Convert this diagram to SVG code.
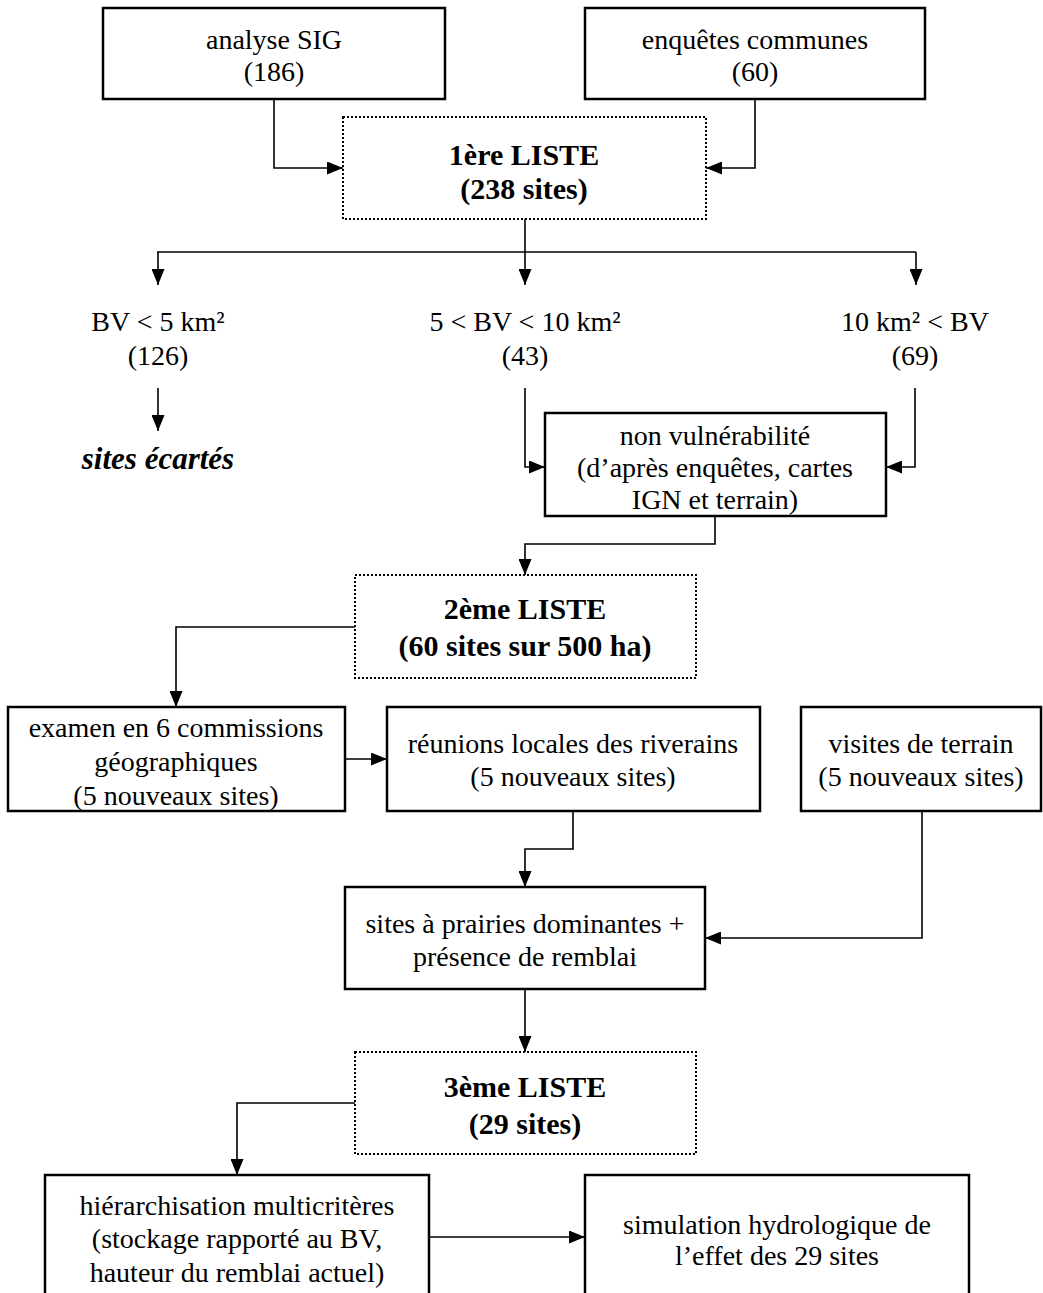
<svg xmlns="http://www.w3.org/2000/svg" width="1043" height="1293" viewBox="0 0 1043 1293">
<defs>
<marker id="ah" viewBox="0 0 16 13" refX="16" refY="6.5" markerWidth="16" markerHeight="13" markerUnits="userSpaceOnUse" orient="auto">
<path d="M0,0 L16,6.5 L0,13 Z" fill="#000"/>
</marker>
<style>
.box{fill:#fff;stroke:#000;stroke-width:2.5}
.dot{fill:#fff;stroke:#000;stroke-width:2;stroke-dasharray:2 2}
.t{font-family:"Liberation Serif","Times New Roman",serif;font-size:28px;fill:#000;text-anchor:middle}
.b{font-family:"Liberation Serif","Times New Roman",serif;font-size:30px;font-weight:bold;fill:#000;text-anchor:middle}
.bi{font-family:"Liberation Serif","Times New Roman",serif;font-size:31px;font-weight:bold;font-style:italic;fill:#000;text-anchor:middle}
.c{fill:none;stroke:#000;stroke-width:1.6}
.ca{fill:none;stroke:#000;stroke-width:1.6;marker-end:url(#ah)}
</style>
</defs>
<rect width="1043" height="1293" fill="#fff"/>
<g id="connectors">
<path class="ca" d="M274,99 V168 H343"/>
<path class="ca" d="M755,99 V168 H706"/>
<path class="c" d="M525,219 V252"/>
<path class="c" d="M157,252 H916"/>
<path class="ca" d="M158,252 V285"/>
<path class="ca" d="M525,252 V285"/>
<path class="ca" d="M916,252 V285"/>
<path class="ca" d="M158,388 V431"/>
<path class="ca" d="M525,388 V467 H545"/>
<path class="ca" d="M915,388 V467 H886"/>
<path class="ca" d="M715,516 V544 H525 V575"/>
<path class="ca" d="M355,627 H176 V707"/>
<path class="ca" d="M345,759 H387"/>
<path class="ca" d="M573,811 V849 H525 V887"/>
<path class="ca" d="M922,811 V938 H705"/>
<path class="ca" d="M525,989 V1052"/>
<path class="ca" d="M355,1103 H237 V1175"/>
<path class="ca" d="M429,1237 H585"/>
</g>
<g id="n-sig">
<rect class="box" x="103" y="8" width="342" height="91"/>
<text class="t" x="274" y="49">analyse SIG</text>
<text class="t" x="274" y="81">(186)</text>
</g>
<g id="n-enq">
<rect class="box" x="585" y="8" width="340" height="91"/>
<text class="t" x="755" y="49">enquêtes communes</text>
<text class="t" x="755" y="81">(60)</text>
</g>
<g id="n-liste1">
<rect class="dot" x="343" y="117" width="363" height="102"/>
<text class="b" x="524" y="165">1ère LISTE</text>
<text class="b" x="524" y="199">(238 sites)</text>
</g>
<g id="n-bv1">
<text class="t" x="158" y="331">BV &lt; 5 km²</text>
<text class="t" x="158" y="365">(126)</text>
</g>
<g id="n-bv2">
<text class="t" x="525" y="331">5 &lt; BV &lt; 10 km²</text>
<text class="t" x="525" y="365">(43)</text>
</g>
<g id="n-bv3">
<text class="t" x="915" y="331">10 km² &lt; BV</text>
<text class="t" x="915" y="365">(69)</text>
</g>
<g id="n-ecartes">
<text class="bi" x="158" y="469">sites écartés</text>
</g>
<g id="n-nonvuln">
<rect class="box" x="545" y="413" width="341" height="103"/>
<text class="t" x="715" y="445">non vulnérabilité</text>
<text class="t" x="715" y="477">(d’après enquêtes, cartes</text>
<text class="t" x="715" y="509">IGN et terrain)</text>
</g>
<g id="n-liste2">
<rect class="dot" x="355" y="575" width="341" height="103"/>
<text class="b" x="525" y="619">2ème LISTE</text>
<text class="b" x="525" y="656">(60 sites sur 500 ha)</text>
</g>
<g id="n-examen">
<rect class="box" x="8" y="707" width="337" height="104"/>
<text class="t" x="176" y="737">examen en 6 commissions</text>
<text class="t" x="176" y="771">géographiques</text>
<text class="t" x="176" y="805">(5 nouveaux sites)</text>
</g>
<g id="n-reunions">
<rect class="box" x="387" y="707" width="373" height="104"/>
<text class="t" x="573" y="753">réunions locales des riverains</text>
<text class="t" x="573" y="786">(5 nouveaux sites)</text>
</g>
<g id="n-visites">
<rect class="box" x="801" y="707" width="240" height="104"/>
<text class="t" x="921" y="753">visites de terrain</text>
<text class="t" x="921" y="786">(5 nouveaux sites)</text>
</g>
<g id="n-prairies">
<rect class="box" x="345" y="887" width="360" height="102"/>
<text class="t" x="525" y="933">sites à prairies dominantes +</text>
<text class="t" x="525" y="966">présence de remblai</text>
</g>
<g id="n-liste3">
<rect class="dot" x="355" y="1052" width="341" height="102"/>
<text class="b" x="525" y="1097">3ème LISTE</text>
<text class="b" x="525" y="1134">(29 sites)</text>
</g>
<g id="n-hier">
<rect class="box" x="45" y="1175" width="384" height="130"/>
<text class="t" x="237" y="1215">hiérarchisation multicritères</text>
<text class="t" x="237" y="1248">(stockage rapporté au BV,</text>
<text class="t" x="237" y="1282">hauteur du remblai actuel)</text>
</g>
<g id="n-simul">
<rect class="box" x="585" y="1175" width="384" height="130"/>
<text class="t" x="777" y="1234">simulation hydrologique de</text>
<text class="t" x="777" y="1265">l’effet des 29 sites</text>
</g>
</svg>
